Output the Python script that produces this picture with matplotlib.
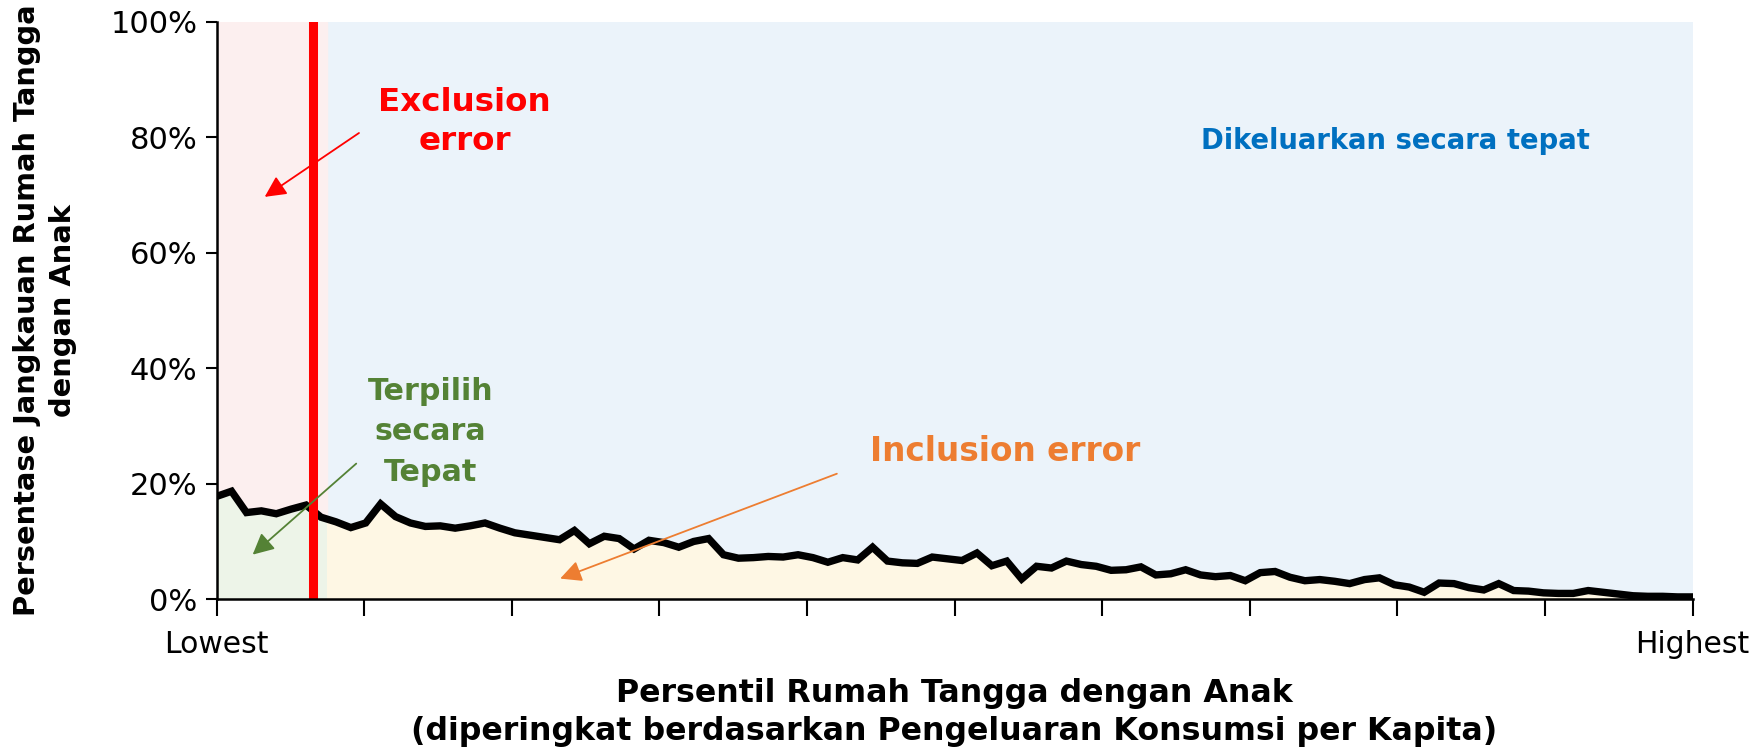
import numpy as np
import matplotlib
matplotlib.use("Agg")
import matplotlib.pyplot as plt
from matplotlib.patches import Rectangle

# Coverage of households with children, by per-capita consumption percentile (%)
coverage = [
    17.8, 18.7, 15.0, 15.3, 14.8, 15.6, 16.3, 14.2, 13.4, 12.4,
    13.2, 16.5, 14.3, 13.2, 12.6, 12.7, 12.3, 12.7, 13.2, 12.3,
    11.5, 11.1, 10.7, 10.3, 11.9, 9.6, 10.9, 10.5, 8.7, 10.2,
    9.8, 9.0, 10.0, 10.5, 7.7, 7.1, 7.2, 7.4, 7.3, 7.7,
    7.2, 6.4, 7.2, 6.8, 9.0, 6.6, 6.3, 6.2, 7.3, 7.0,
    6.7, 8.0, 5.8, 6.6, 3.5, 5.7, 5.4, 6.6, 6.0, 5.7,
    5.0, 5.1, 5.6, 4.2, 4.4, 5.1, 4.2, 3.9, 4.1, 3.2,
    4.6, 4.8, 3.8, 3.2, 3.4, 3.1, 2.7, 3.4, 3.7, 2.5,
    2.1, 1.2, 2.8, 2.7, 2.0, 1.6, 2.7, 1.5, 1.4, 1.1,
    1.0, 1.0, 1.5, 1.2, 0.9, 0.6, 0.5, 0.5, 0.4, 0.4,
]
cutoff = 6.5          # targeting threshold (percentile)
eligible_edge = 7.5   # end of the shaded "eligible" band
y_ticks = [0, 20, 40, 60, 80, 100]
x_tick_labels = {0: "Lowest", 100: "Highest"}

plt.rcParams["font.family"] = ["DejaVu Sans"]

x = np.linspace(0, 100, len(coverage))
y = np.array(coverage)

fig = plt.figure(figsize=(17.57, 7.49), dpi=100)
ax = fig.add_axes([0.1233, 0.2, 0.8400, 0.771])

# Backgrounds
ax.set_facecolor("#ebf3fa")
ax.axvspan(0, eligible_edge, color="#fcefef", zorder=0)

# Area under the line: green left of cutoff band, yellow after
ax.fill_between(x, 0, y, color="#edf4e8", zorder=1, lw=0)
yellow = ax.fill_between(x, 0, y, color="#fef7e4", zorder=1.1, lw=0)
yellow.set_clip_path(Rectangle((eligible_edge, 0), 100, 100, transform=ax.transData))

ax.plot(x, y, color="black", lw=5.3, solid_joinstyle="miter", zorder=3)
ax.axvline(cutoff, color="#ff0000", lw=6.5, zorder=4)

ax.set_xlim(0, 100)
ax.set_ylim(0, 100)
ax.set_yticks(y_ticks)
ax.set_yticklabels([f"{v}%" for v in y_ticks])
ax.set_xticks(np.arange(0, 101, 10))
ax.set_xticklabels([x_tick_labels.get(v, "") for v in range(0, 101, 10)])
ax.tick_params(axis="y", labelsize=22, length=8, width=1.5, pad=6)
ax.tick_params(axis="x", labelsize=21.5, length=12, width=1.5, pad=10)
for side in ["top", "right"]:
    ax.spines[side].set_visible(False)
for side in ["left", "bottom"]:
    ax.spines[side].set_linewidth(1.8)
    ax.spines[side].set_zorder(5)

ax.set_ylabel("Persentase Jangkauan Rumah Tangga\ndengan Anak", fontsize=20.8,
              fontweight="bold", labelpad=24, linespacing=1.35)
ax.set_xlabel("Persentil Rumah Tangga dengan Anak\n(diperingkat berdasarkan Pengeluaran Konsumsi per Kapita)",
              fontsize=22.8, fontweight="bold", labelpad=14, linespacing=1.3)

# Annotations
ax.text(16.8, 82.6, "Exclusion\nerror", color="#ff0000", fontsize=23.4, fontweight="bold",
        ha="center", va="center", linespacing=1.35, zorder=6)
ax.annotate("", xy=(3.1, 69.4), xytext=(9.8, 81.0),
            arrowprops=dict(arrowstyle="-|>", color="#ff0000", lw=1.3, mutation_scale=32), zorder=6)

ax.text(79.9, 79.3, "Dikeluarkan secara tepat", color="#0070c0", fontsize=19.8, fontweight="bold",
        ha="center", va="center", zorder=6)

ax.text(14.5, 29.0, "Terpilih\nsecara\nTepat", color="#548235", fontsize=21.7, fontweight="bold",
        ha="center", va="center", linespacing=1.5, zorder=6)
ax.annotate("", xy=(2.3, 7.4), xytext=(9.6, 23.8),
            arrowprops=dict(arrowstyle="-|>", color="#548235", lw=1.3, mutation_scale=32), zorder=6)

ax.text(53.4, 25.6, "Inclusion error", color="#ed7d31", fontsize=23.6, fontweight="bold",
        ha="center", va="center", zorder=6)
ax.annotate("", xy=(23.1, 3.4), xytext=(42.2, 21.9),
            arrowprops=dict(arrowstyle="-|>", color="#ed7d31", lw=1.3, mutation_scale=32), zorder=6)

fig.savefig("out.png", dpi=100)
